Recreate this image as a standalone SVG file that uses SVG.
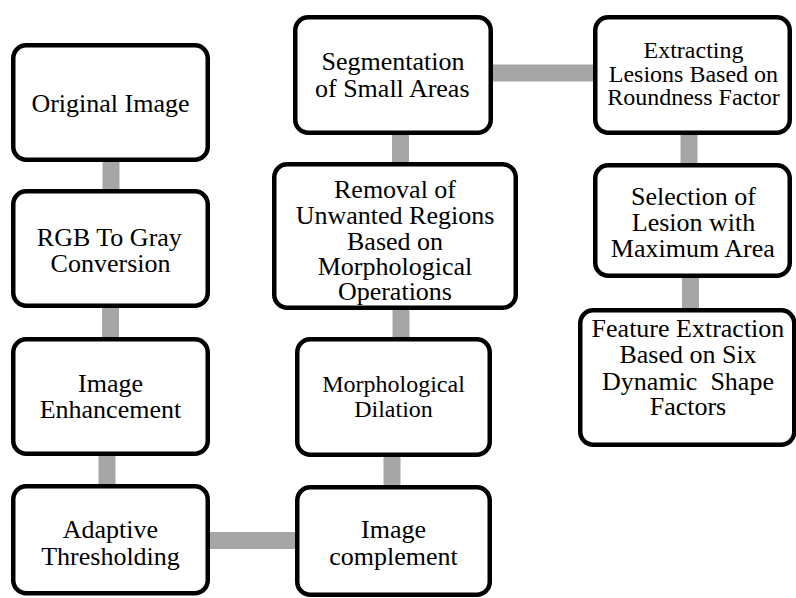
<svg xmlns="http://www.w3.org/2000/svg" width="796" height="598" viewBox="0 0 796 598">
<rect width="796" height="598" fill="#fff"/>
<g id="connectors" stroke="#a6a6a6" stroke-width="17" fill="none">
<line x1="111" y1="160" x2="111" y2="192"/>
<line x1="110.5" y1="306" x2="110.5" y2="340"/>
<line x1="107" y1="454" x2="107" y2="487"/>
<line x1="208" y1="540.5" x2="298" y2="540.5"/>
<line x1="392" y1="455" x2="392" y2="488"/>
<line x1="401" y1="308" x2="401" y2="340"/>
<line x1="400.5" y1="133" x2="400.5" y2="165"/>
<line x1="491" y1="73" x2="596" y2="73"/>
<line x1="689" y1="133" x2="689" y2="166"/>
<line x1="690.5" y1="276" x2="690.5" y2="311"/>
</g>
<g id="n1"><rect fill="#fff" stroke="#000" stroke-width="4.5" x="13.25" y="45.25" width="194.5" height="114.5" rx="13"/></g>
<g id="n2"><rect fill="#fff" stroke="#000" stroke-width="4.5" x="13.25" y="191.25" width="194.5" height="114.5" rx="13"/></g>
<g id="n3"><rect fill="#fff" stroke="#000" stroke-width="4.5" x="13.25" y="339.25" width="194.5" height="114.5" rx="13"/></g>
<g id="n4"><rect fill="#fff" stroke="#000" stroke-width="4.5" x="13.25" y="486.25" width="194.5" height="107" rx="13"/></g>
<g id="n5"><rect fill="#fff" stroke="#000" stroke-width="4.5" x="297.25" y="487.25" width="192.5" height="107.5" rx="13"/></g>
<g id="n6"><rect fill="#fff" stroke="#000" stroke-width="4.5" x="297.25" y="339.25" width="192.5" height="115.5" rx="13"/></g>
<g id="n7"><rect fill="#fff" stroke="#000" stroke-width="4.5" x="274.25" y="164.25" width="241.5" height="143.5" rx="13"/></g>
<g id="n8"><rect fill="#fff" stroke="#000" stroke-width="4.5" x="295.25" y="17.25" width="195.5" height="115.5" rx="13"/></g>
<g id="n9"><rect fill="#fff" stroke="#000" stroke-width="4.5" x="595.25" y="17.25" width="194.5" height="115.5" rx="13"/></g>
<g id="n10"><rect fill="#fff" stroke="#000" stroke-width="4.5" x="595.25" y="165.25" width="194.5" height="110.5" rx="13"/></g>
<g id="n11"><rect fill="#fff" stroke="#000" stroke-width="4.5" x="580.25" y="310.25" width="214" height="134.5" rx="13"/></g>
<text font-family="Liberation Serif" font-size="26" x="31.4" y="111.5">Original Image</text>
<text font-family="Liberation Serif" font-size="26" x="36.8" y="246">RGB To Gray</text>
<text font-family="Liberation Serif" font-size="26" x="50.6" y="272">Conversion</text>
<text font-family="Liberation Serif" font-size="26" x="78" y="392">Image</text>
<text font-family="Liberation Serif" font-size="26" x="39.7" y="418">Enhancement</text>
<text font-family="Liberation Serif" font-size="26" x="62.8" y="538">Adaptive</text>
<text font-family="Liberation Serif" font-size="26" x="41.2" y="565">Thresholding</text>
<text font-family="Liberation Serif" font-size="26" x="361" y="538">Image</text>
<text font-family="Liberation Serif" font-size="26" x="329.2" y="565">complement</text>
<text font-family="Liberation Serif" font-size="24" x="322.2" y="392">Morphological</text>
<text font-family="Liberation Serif" font-size="24" x="354.2" y="417">Dilation</text>
<text font-family="Liberation Serif" font-size="26" x="334" y="198">Removal of</text>
<text font-family="Liberation Serif" font-size="26" x="295.7" y="224">Unwanted Regions</text>
<text font-family="Liberation Serif" font-size="26" x="347" y="250">Based on</text>
<text font-family="Liberation Serif" font-size="26" x="317.7" y="275">Morphological</text>
<text font-family="Liberation Serif" font-size="26" x="337.9" y="300">Operations</text>
<text font-family="Liberation Serif" font-size="26" x="321.5" y="70">Segmentation</text>
<text font-family="Liberation Serif" font-size="26" x="315" y="97">of Small Areas</text>
<text font-family="Liberation Serif" font-size="24" x="643.5" y="58">Extracting</text>
<text font-family="Liberation Serif" font-size="24" x="608.8" y="82">Lesions Based on</text>
<text font-family="Liberation Serif" font-size="24" x="607.2" y="105">Roundness Factor</text>
<text font-family="Liberation Serif" font-size="26" x="631" y="205">Selection of</text>
<text font-family="Liberation Serif" font-size="26" x="631.8" y="231">Lesion with</text>
<text font-family="Liberation Serif" font-size="26" x="610.8" y="257">Maximum Area</text>
<text font-family="Liberation Serif" font-size="26" x="591.6" y="337">Feature Extraction</text>
<text font-family="Liberation Serif" font-size="26" x="619.4" y="363">Based on Six</text>
<text font-family="Liberation Serif" font-size="26" x="602.1" y="390">Dynamic&#160; Shape</text>
<text font-family="Liberation Serif" font-size="26" x="649.7" y="415">Factors</text>
</svg>
